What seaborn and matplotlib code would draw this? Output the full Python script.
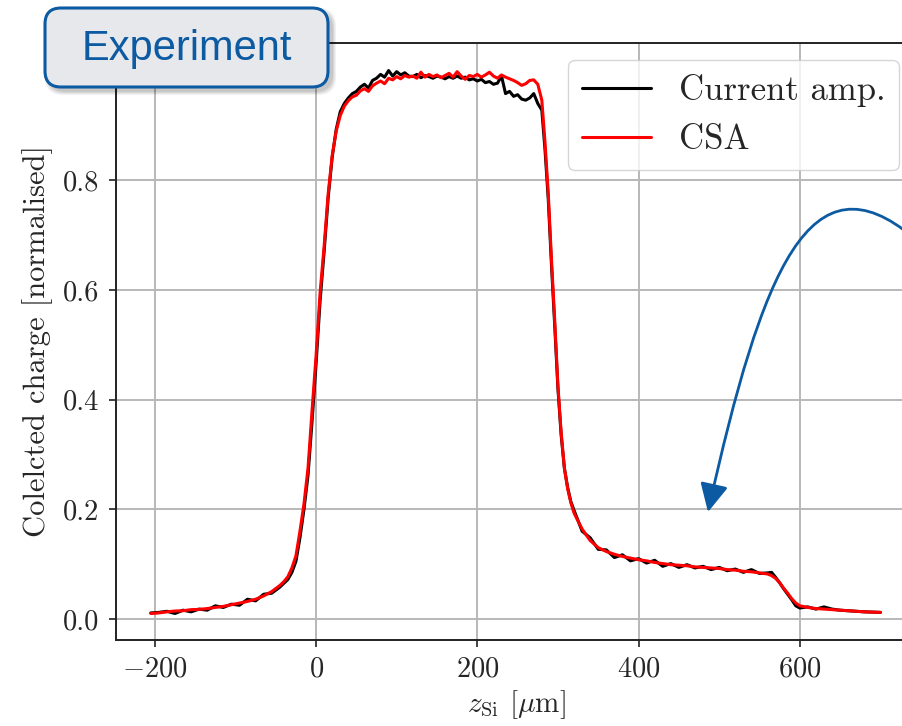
import matplotlib
matplotlib.use("Agg")
import matplotlib.pyplot as plt
import seaborn as sns
import pandas as pd
from matplotlib.patches import FancyBboxPatch, FancyArrowPatch
from matplotlib.path import Path
from matplotlib.transforms import IdentityTransform

# position along the beam [um]
z_um = [
    -205, -195, -185, -175, -165, -155, -145, -135, -125, -115, -105, -95, -85, -75, -65, -55, -45,
    -40, -35, -30, -25, -20, -15, -10, -5, 0, 5, 10, 15, 20, 25, 30, 35, 40,
    45, 50, 55, 60, 65, 70, 75, 80, 85, 90, 95, 100, 105, 110, 115, 120, 125, 130, 135, 140, 145, 150, 155, 160,
    165, 170, 175, 180, 185, 190, 195, 200, 205, 210, 215, 220, 225, 230, 235, 240, 245, 250, 255, 260, 265, 270, 275,
    280, 284, 288, 292, 296, 300, 304, 308, 312, 316, 320, 330, 340, 350,
    360, 370, 380, 390, 400, 410, 420, 430, 440, 450, 460, 470, 480, 490, 500, 510, 520, 530, 540, 550, 560,
    565, 570, 575, 580, 585, 590, 595, 600,
    610, 620, 630, 640, 650, 660, 670, 680, 690, 700,
]

current_amp = [
    0.011, 0.012, 0.014, 0.010, 0.016, 0.013, 0.018, 0.016, 0.024, 0.021, 0.027, 0.025, 0.036, 0.033, 0.045, 0.047, 0.058,
    0.065, 0.072, 0.085, 0.105, 0.148, 0.200, 0.262, 0.360, 0.465, 0.580, 0.670, 0.768, 0.842, 0.893, 0.925, 0.940, 0.950,
    0.958, 0.962, 0.970, 0.975, 0.968, 0.982, 0.986, 0.993, 0.988, 1.000, 0.990, 0.998, 0.992, 0.996, 0.990, 0.989, 0.993, 0.987, 0.991, 0.989, 0.986, 0.990, 0.988, 0.985,
    0.989, 0.986, 0.990, 0.986, 0.988, 0.983, 0.985, 0.981, 0.984, 0.978, 0.980, 0.975, 0.977, 0.990, 0.958, 0.962, 0.953, 0.956, 0.948, 0.946, 0.950, 0.958, 0.940,
    0.928, 0.855, 0.765, 0.645, 0.535, 0.420, 0.335, 0.275, 0.240, 0.214, 0.198, 0.160, 0.148, 0.127,
    0.126, 0.112, 0.117, 0.106, 0.110, 0.102, 0.107, 0.096, 0.101, 0.094, 0.099, 0.093, 0.096, 0.090, 0.094, 0.088, 0.091, 0.085, 0.090, 0.083, 0.084,
    0.085, 0.076, 0.066, 0.055, 0.045, 0.035, 0.024, 0.020,
    0.022, 0.018, 0.022, 0.018, 0.016, 0.015, 0.014, 0.013, 0.0125, 0.012,
]

csa = [
    0.010, 0.011, 0.013, 0.0145, 0.015, 0.017, 0.0175, 0.019, 0.021, 0.023, 0.026, 0.029, 0.032, 0.036, 0.042, 0.050, 0.061,
    0.068, 0.077, 0.093, 0.115, 0.160, 0.210, 0.275, 0.380, 0.480, 0.595, 0.680, 0.775, 0.845, 0.890, 0.918, 0.935, 0.945,
    0.952, 0.955, 0.963, 0.967, 0.962, 0.972, 0.977, 0.981, 0.976, 0.986, 0.983, 0.989, 0.985, 0.991, 0.988, 0.990, 0.986, 0.997, 0.988, 0.993, 0.989, 0.992, 0.987, 0.991,
    0.995, 0.988, 0.998, 0.990, 0.984, 0.991, 0.989, 0.993, 0.988, 0.992, 0.997, 0.990, 0.986, 0.992, 0.988, 0.985, 0.982, 0.978, 0.973, 0.976, 0.982, 0.983, 0.975,
    0.946, 0.868, 0.776, 0.655, 0.545, 0.425, 0.340, 0.275, 0.238, 0.212, 0.193, 0.164, 0.143, 0.130,
    0.123, 0.118, 0.114, 0.111, 0.108, 0.106, 0.103, 0.101, 0.099, 0.098, 0.097, 0.095, 0.094, 0.093, 0.092, 0.090, 0.089, 0.087, 0.086, 0.084, 0.082,
    0.079, 0.074, 0.066, 0.056, 0.047, 0.037, 0.029, 0.024,
    0.021, 0.019, 0.018, 0.017, 0.016, 0.015, 0.014, 0.013, 0.0125, 0.012,
]

series_names = ["Current amp.", "CSA"]
series_colors = ["black", "red"]

df = pd.concat([
    pd.DataFrame({"z": z_um, "charge": current_amp, "signal": series_names[0]}),
    pd.DataFrame({"z": z_um, "charge": csa, "signal": series_names[1]}),
])

sns.set_style("ticks")
plt.rcParams["font.family"] = ["cmr10", "DejaVu Serif"]
plt.rcParams["mathtext.fontset"] = "cm"
plt.rcParams["axes.formatter.use_mathtext"] = True

fig = plt.figure(figsize=(9.02, 7.26), dpi=100)
ax = fig.add_axes([0.1283, 0.1185, 0.888, 0.8223])

sns.lineplot(data=df, x="z", y="charge", hue="signal", hue_order=series_names,
             palette=dict(zip(series_names, series_colors)), sort=False,
             estimator=None, linewidth=2.2, legend=False, ax=ax)

ax.set_xlim(-248.5, 745)
ax.set_ylim(-0.0383, 1.0503)
ax.set_xticks([-200, 0, 200, 400, 600])
ax.set_yticks([0.0, 0.2, 0.4, 0.6, 0.8])
ax.yaxis.set_major_formatter(matplotlib.ticker.FormatStrFormatter("%.1f"))
ax.grid(True, color="#b8b8b8", linewidth=1.4)
for s in ax.spines.values():
    s.set_visible(True)
    s.set_linewidth(1.4)
    s.set_color("#222222")
ax.tick_params(length=5, width=1.2, labelsize=20.5, pad=7, color="#222222")

ax.set_xlabel(r"$z_{\mathrm{Si}}$ [$\mu$m]", fontsize=21, labelpad=4)
ax.set_ylabel("Colelcted charge [normalised]", fontsize=22, labelpad=7)

ax.legend(handles=ax.lines[:2], labels=series_names, loc="upper right",
          fontsize=25, framealpha=0.8, edgecolor="0.8")

# "Experiment" tag with a soft shadow
blue = "#0b5aa2"
px = IdentityTransform()
for i, a in enumerate([0.05, 0.05, 0.06, 0.07]):
    g = 8 - 2 * i
    fig.patches.append(FancyBboxPatch((45 + 4 - g / 2, 639 - 4 - g / 2), 283 + g, 79 + g,
                                      boxstyle="round,pad=0,rounding_size=18",
                                      transform=px, facecolor="black", alpha=a,
                                      edgecolor="none", zorder=5))
fig.patches.append(FancyBboxPatch((45, 639), 283, 79, boxstyle="round,pad=0,rounding_size=16",
                                  transform=px, facecolor="#e7e8eb", edgecolor=blue,
                                  linewidth=2.2, zorder=6))
fig.text(186.5 / 902, 1 - 49 / 726, "Experiment", fontsize=30, color=blue,
         family="Liberation Sans", ha="center", va="center", zorder=7)

# curved annotation arrow
verts = [(914, 726 - 238), (810, 726 - 150), (762, 726 - 270), (708, 726 - 512)]
arrow_path = Path(verts, [Path.MOVETO, Path.CURVE4, Path.CURVE4, Path.CURVE4])
fig.patches.append(FancyArrowPatch(path=arrow_path, transform=px,
                                   arrowstyle="-|>,head_length=0.86,head_width=0.43",
                                   mutation_scale=20, color=blue, linewidth=2.0, zorder=6))

fig.savefig("out.png", dpi=100)
